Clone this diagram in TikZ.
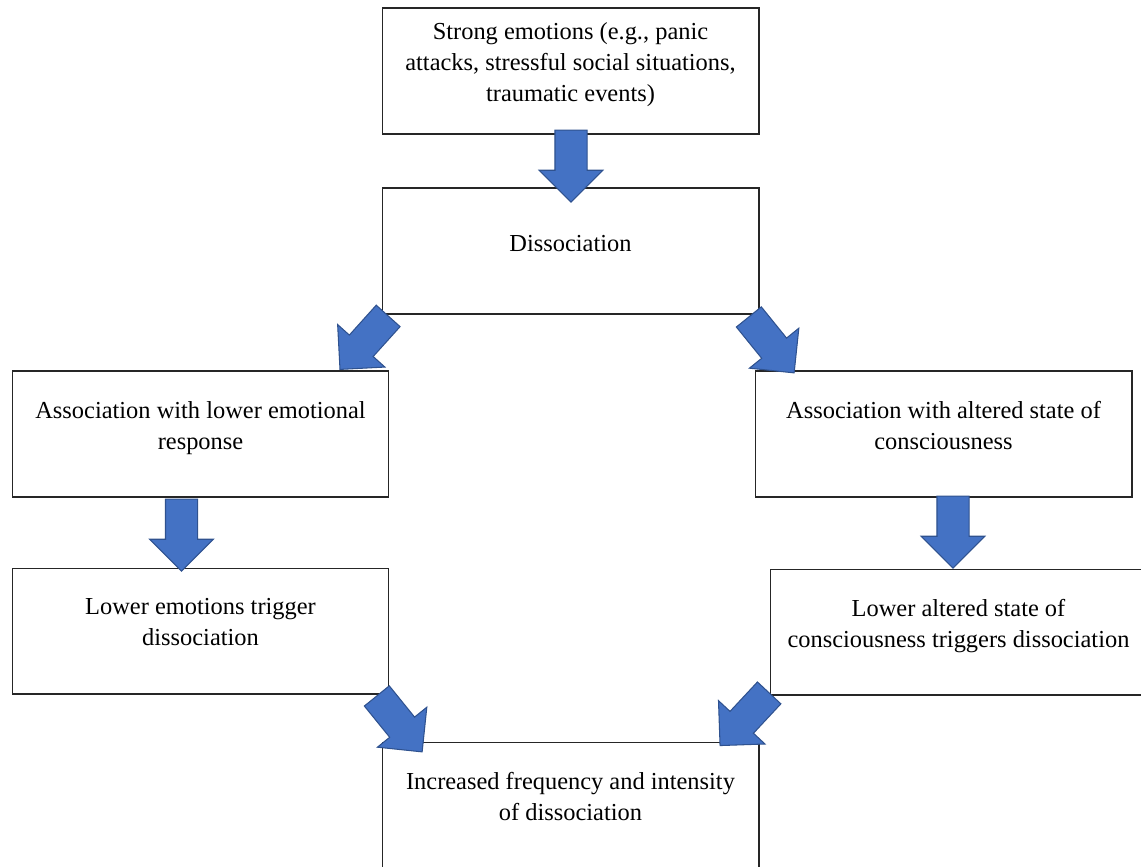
\documentclass[tikz,border=0pt]{standalone}
\usepackage{fontspec}
\setmainfont{Liberation Serif}
\usetikzlibrary{shapes.arrows, calc}

\definecolor{arrowblue}{HTML}{4472C4}
\definecolor{arrowedge}{HTML}{2F528F}

\begin{document}
\begin{tikzpicture}[
	x=0.02cm, y=-0.02cm,
	box/.style={rectangle, draw=black!85, line width=0.6pt, minimum width=7.54cm, minimum height=2.52cm, inner sep=0pt, align=center, font=\fontsize{13.9}{17.6}\selectfont, execute at begin node={\rule{0pt}{10pt}}, execute at end node={\rule[-10pt]{0pt}{10pt}}},
	blockarrow/.style={single arrow, draw=arrowedge, line width=0.6pt, fill=arrowblue, inner xsep=0pt, inner ysep=0.31cm, minimum height=1.44cm, single arrow head extend=0.315cm, single arrow tip angle=90, anchor=tail}
	]
	
	\useasboundingbox (0,0) rectangle (1141,866);
	
	% Boxes
	\node[box] (emo) at (570.5,71) {Strong emotions (e.g., panic\\attacks, stressful social situations,\\traumatic events)};
	\node[box] (diss) at (570.5,251) {Dissociation};
	\node[box] (lowresp) at (200.5,434) {Association with lower emotional\\response};
	\node[box] (altered) at (943.5,434) {Association with altered state of\\consciousness};
	\node[box] (lowtrig) at (200.5,631) {Lower emotions trigger\\dissociation};
	\node[box] (alttrig) at (958.5,632) {Lower altered state of\\consciousness triggers dissociation};
	\node[box] (freq) at (570.5,805) {Increased frequency and intensity\\of dissociation};
	
	% Block arrows
	\node[blockarrow, rotate=-90] (a1) at ($(emo.south)+(0.5,-5)$) {};
	\node[blockarrow, rotate=-132] (a2) at ($(diss.south west)+(7,1)$) {};
	\node[blockarrow, rotate=-51] (a3) at ($(diss.south east)+(-11,2)$) {};
	\node[blockarrow, rotate=-90] (a4) at ($(lowresp.south)+(-19,1)$) {};
	\node[blockarrow, rotate=-90] (a5) at ($(altered.south)+(9.5,-2)$) {};
	\node[blockarrow, rotate=-51] (a6) at ($(lowtrig.south east)+(-13,1)$) {};
	\node[blockarrow, rotate=-133] (a7) at ($(alttrig.south west)+(0,-3)$) {};
	
\end{tikzpicture}
\end{document}
